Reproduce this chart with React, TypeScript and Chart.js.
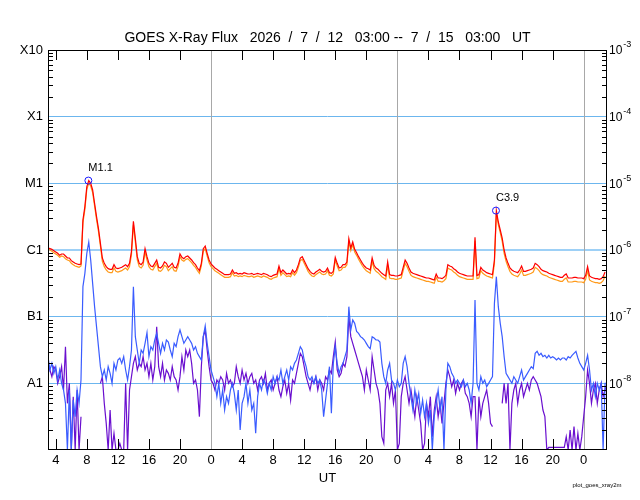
import { useEffect, useRef } from 'react';
import Chart from 'chart.js/auto';

// GOES X-ray flux, 15-minute samples from 2026-07-12 03:00 UT, stored as log10(W/m^2)
const SAMPLE_HOURS = 0.25;
const FONT = "'Liberation Sans', Arial, sans-serif";

// 1-8 A, primary (red)
const longPrimaryLog: (number | null)[] = [
  -5.97, -5.98, -5.99, -6.01, -6.03, -6.05, -6.08, -6.06, -6.06, -6.09, -6.12, -6.12, -6.16, -6.18, -6.2, -6.21, -6.22, -6.21, -5.55, -5.35, -5.05, -4.96, -5.0, -5.1,
  -5.3, -5.5, -5.68, -5.9, -6.12, -6.2, -6.25, -6.28, -6.29, -6.29, -6.22, -6.27, -6.28, -6.27, -6.26, -6.24, -6.22, -6.25, -6.2, -6.02, -5.57, -5.83, -6.1, -6.2,
  -6.22, -6.18, -5.98, -6.1, -6.2, -6.24, -6.25, -6.2, -6.15, -6.26, -6.27, -6.24, -6.18, -6.2, -6.26, -6.23, -6.2, -6.26, -6.27, -6.2, -6.06, -6.11, -6.13, -6.1,
  -6.09, -6.12, -6.15, -6.19, -6.22, -6.27, -6.31, -6.2, -5.98, -5.94, -6.05, -6.15, -6.21, -6.24, -6.27, -6.29, -6.31, -6.33, -6.35, -6.37, -6.37, -6.37, -6.36, -6.3,
  -6.35, -6.34, -6.36, -6.35, -6.36, -6.34, -6.35, -6.36, -6.36, -6.35, -6.37, -6.36, -6.35, -6.36, -6.37, -6.35, -6.36, -6.37, -6.39, -6.4, -6.38, -6.37, -6.36, -6.24,
  -6.34, -6.3, -6.33, -6.36, -6.35, -6.36, -6.3, -6.34, -6.3, -6.22, -6.12, -6.1, -6.16, -6.22, -6.28, -6.32, -6.35, -6.36, -6.33, -6.31, -6.29, -6.32, -6.33, -6.32,
  -6.27, -6.34, -6.35, -6.32, -6.11, -6.2, -6.27, -6.26, -6.22, -6.22, -6.18, -5.83, -5.97, -5.88, -5.99, -6.04, -6.1, -6.15, -6.2, -6.24, -6.27, -6.28, -6.3, -6.12,
  -6.23, -6.27, -6.29, -6.32, -6.35, -6.37, -6.39, -6.18, -6.37, -6.38, -6.38, -6.39, -6.39, -6.38, -6.37, -6.26, -6.15, -6.2, -6.27, -6.33, -6.35, -6.36, -6.37, -6.38,
  -6.39, -6.4, -6.41, -6.42, -6.42, -6.43, -6.44, -6.45, -6.36, -6.42, -6.42, -6.43, -6.41, -6.38, -6.22, -6.24, -6.25, -6.28, -6.3, -6.33, -6.35, -6.36, -6.37, -6.38,
  -6.39, -6.39, -6.39, -6.39, -5.81, -6.38, -6.37, -6.26, -6.3, -6.32, -6.34, -6.35, -6.36, -6.37, -6.15, -5.41, -5.58, -5.7, -5.82, -6.0, -6.12, -6.2, -6.27, -6.3,
  -6.32, -6.33, -6.34, -6.3, -6.24, -6.32, -6.32, -6.31, -6.3, -6.29, -6.27, -6.2, -6.22, -6.25, -6.29, -6.31, -6.32, -6.33, -6.35, -6.36, -6.37, -6.38, -6.39, -6.4,
  -6.41, -6.41, -6.38, -6.36, -6.42, -6.42, -6.42, -6.41, -6.41, -6.42, -6.42, -6.42, -6.43, -6.38, -6.25, -6.39, -6.41, -6.42, -6.43, -6.43, -6.44, -6.43, -6.4, -6.33,
  null,
];

// 1-8 A, secondary (orange)
const longSecondaryLog: (number | null)[] = [
  -5.99, -6.0, -6.02, -6.04, -6.06, -6.08, -6.11, -6.09, -6.1, -6.13, -6.15, -6.16, -6.2, -6.22, -6.24, -6.25, -6.26, -6.24, -5.59, -5.39, -5.09, -5.0, -5.04, -5.14,
  -5.34, -5.54, -5.72, -5.94, -6.17, -6.25, -6.3, -6.33, -6.34, -6.34, -6.27, -6.32, -6.33, -6.32, -6.31, -6.29, -6.27, -6.3, -6.25, -6.07, -5.62, -5.88, -6.15, -6.25,
  -6.27, -6.23, -6.03, -6.15, -6.25, -6.29, -6.3, -6.25, -6.2, -6.31, -6.32, -6.29, -6.23, -6.25, -6.31, -6.28, -6.25, -6.31, -6.32, -6.25, -6.1, -6.15, -6.17, -6.14,
  -6.13, -6.16, -6.19, -6.23, -6.26, -6.31, -6.35, -6.24, -6.02, -5.98, -6.09, -6.19, -6.25, -6.28, -6.31, -6.33, -6.35, -6.37, -6.39, -6.41, -6.41, -6.41, -6.4, -6.34,
  -6.39, -6.38, -6.4, -6.39, -6.4, -6.38, -6.39, -6.4, -6.4, -6.39, -6.41, -6.4, -6.39, -6.4, -6.41, -6.39, -6.4, -6.41, -6.43, -6.44, -6.42, -6.41, -6.4, -6.28,
  -6.38, -6.34, -6.37, -6.4, -6.39, -6.4, -6.34, -6.38, -6.34, -6.26, -6.16, -6.14, -6.2, -6.26, -6.32, -6.36, -6.39, -6.4, -6.37, -6.35, -6.33, -6.36, -6.37, -6.36,
  -6.31, -6.38, -6.39, -6.36, -6.15, -6.24, -6.31, -6.3, -6.26, -6.26, -6.22, -5.87, -6.01, -5.92, -6.03, -6.08, -6.14, -6.19, -6.24, -6.28, -6.31, -6.33, -6.35, -6.17,
  -6.28, -6.32, -6.34, -6.37, -6.4, -6.42, -6.44, -6.23, -6.42, -6.43, -6.43, -6.44, -6.44, -6.43, -6.42, -6.31, -6.2, -6.25, -6.32, -6.38, -6.4, -6.41, -6.42, -6.43,
  -6.44, -6.45, -6.46, -6.47, -6.47, -6.48, -6.49, -6.5, -6.41, -6.47, -6.47, -6.48, -6.46, -6.43, -6.27, -6.29, -6.3, -6.33, -6.35, -6.38, -6.4, -6.41, -6.42, -6.43,
  -6.44, -6.44, -6.44, -6.44, -5.86, -6.43, -6.42, -6.31, -6.35, -6.37, -6.39, -6.4, -6.41, -6.42, -6.2, -5.44, -5.62, -5.74, -5.87, -6.05, -6.17, -6.25, -6.32, -6.36,
  -6.38, -6.39, -6.4, -6.36, -6.3, -6.38, -6.38, -6.37, -6.36, -6.35, -6.33, -6.26, -6.28, -6.31, -6.35, -6.37, -6.38, -6.39, -6.41, -6.42, -6.43, -6.44, -6.45, -6.46,
  -6.47, -6.47, -6.44, -6.42, -6.48, -6.48, -6.48, -6.47, -6.47, -6.48, -6.48, -6.48, -6.49, -6.44, -6.31, -6.45, -6.47, -6.48, -6.49, -6.49, -6.5, -6.49, -6.46, -6.39,
  null,
];

// 0.5-4 A, primary (blue)
const shortPrimaryLog: (number | null)[] = [
  -7.6, -7.8, -7.7, -7.85, -7.75, -7.95, -7.8, -8.0, -8.1, -8.3, -9.0, -8.1, -9.0, -8.25, -8.5, -8.1, -8.3, -7.95, -6.55, -6.35, -6.05, -5.88, -6.15, -6.5,
  -6.85, -7.15, -7.45, -7.75, -7.9, -7.8, -7.95, -7.75, -7.85, -8.0, -7.7, -7.8, -7.65, -7.62, -7.7, -7.6, -7.8, -7.95, -7.75, -7.5, -6.55, -7.3, -7.5, -7.7,
  -7.5, -7.55, -7.4, -7.24, -7.6, -7.45, -7.5, -7.35, -7.25, -7.4, -7.55, -7.4, -7.5, -7.35, -7.38, -7.5, -7.6, -7.4, -7.45, -7.3, -7.2, -7.3, -7.4, -7.35,
  -7.3, -7.35, -7.4, -7.5, -7.45, -7.55, -7.6, -7.65, -7.3, -7.14, -7.4, -7.6, -7.8, -7.9, -8.0, -8.2, -8.0, -8.3, -8.1, -8.4, -8.2, -8.3, -8.1, -8.0,
  -8.15, -8.4, -8.1, -8.7, -8.3, -8.2, -8.0, -8.3, -8.1, -8.4, -8.3, -8.75, -8.2, -8.0, -8.1, -7.95, -8.0, -8.15, -8.0, -8.1, -7.9, -8.0, -7.9, -7.95,
  -7.8, -8.0, -7.9, -7.8, -7.95, -7.75, -7.8, -7.7, -7.65, -7.55, -7.45, -7.5, -7.65, -7.75, -7.9, -7.95, -7.9, -8.0, -7.9, -8.0, -7.95, -8.1, -8.5, -8.25,
  -8.0, -7.75, -8.45, -7.7, -7.45, -7.7, -7.85, -7.75, -7.7, -7.6, -7.5, -6.85, -7.2, -7.05, -7.1, -7.22, -7.25, -7.3, -7.32, -7.35, -7.4, -7.45, -7.48, -7.3,
  -7.32, -7.35, -7.35, -7.38, -7.7, -7.9, -8.0, -7.8, -7.7, -7.95, -8.0, -8.1, -7.95, -8.05, -8.0, -7.7, -7.6, -7.75, -8.0, -8.2, -8.4, -8.1, -8.3, -8.15,
  -8.45, -8.25, -8.5, -8.3, -8.6, -8.4, -9.0, -8.5, -8.3, -8.1, -8.4, -8.2, -9.0, -8.1, -7.7, -7.75, -7.85, -7.9, -8.0, -7.95, -8.0, -8.05, -7.95, -8.05,
  -8.0, -8.1, -8.3, -8.0, -6.75, -8.0, -8.1, -7.9, -8.0, -7.95, -8.05, -8.0, -7.95, -7.9, -6.8, -6.4, -6.85, -7.1, -7.3, -7.6, -7.85, -7.9, -7.95, -8.0,
  -7.9, -7.95, -8.0, -7.9, -7.8, -7.95, -7.9, -7.85, -7.8, -7.75, -7.78, -7.55, -7.52, -7.58, -7.55, -7.6, -7.58, -7.62, -7.58, -7.62, -7.6, -7.62, -7.65, -7.62,
  -7.65, -7.62, -7.62, -7.65, -7.6, -7.62, -7.58, -7.55, -7.52, -7.62, -7.7, -7.75, -7.8, -7.7, -7.58, -7.8, -8.1, -8.0, -8.2, -8.0, -8.1, -8.0, -9.0, -8.0,
  -8.0,
];

// 0.5-4 A, secondary (purple)
const shortSecondaryLog: (number | null)[] = [
  -7.7, -7.8, -7.9, -7.75, -7.8, -8.0, -7.9, -7.75, -8.1, -7.45, -8.3, -8.0, -9.0, -8.2, -9.0, -8.1, -9.0, -8.5, null, null, null, null, null, null,
  null, null, null, -8.0, -7.9, -8.3, -8.6, -9.0, -8.4, -9.0, -8.75, -9.0, -9.0, -8.9, -9.0, -9.0, -8.0, -9.0, -8.1, -7.9, -7.7, -7.6, -7.8, -7.7,
  -7.75, -7.6, -7.8, -7.7, -7.9, -7.7, -7.95, -7.75, -7.15, -7.75, -7.9, -7.7, -7.95, -7.8, -7.85, -7.95, -7.75, -7.9, -7.95, -8.1, -7.9, -7.6, -7.8, -7.5,
  -7.6, -7.5, -7.7, -8.0, -7.95, -8.1, -8.5, -7.75, -7.3, -7.2, -7.5, -7.75, -7.95, -8.0, -8.1, -7.95, -8.0, -7.9, -7.95, -8.1, -7.85, -8.0, -7.95, -8.05,
  -8.0, -7.75, -7.9, -8.0, -7.8, -7.95, -7.85, -8.0, -7.9, -7.85, -8.0, -7.95, -8.1, -7.95, -7.9, -8.0, -7.85, -8.1, -8.0, -7.95, -8.1, -8.0, -7.9, -8.1,
  -8.2, -8.05, -7.95, -8.15, -8.0, -8.25, -7.95, -8.0, -7.85, -7.7, -7.55, -7.6, -7.75, -7.9, -8.0, -8.1, -7.95, -8.0, -7.9, -8.1, -7.95, -8.0, -8.1, -7.9,
  -7.95, -7.8, -7.85, -7.6, -7.38, -7.8, -7.9, -7.85, -7.7, -7.75, -7.6, -7.0, -7.3, -7.4, -7.5, -7.6, -7.7, -7.8, -7.9, -8.1, -7.8, -7.95, -8.1, -7.6,
  -7.8, -8.0, -8.1, -8.3, -8.8, -8.9, -8.1, -8.0, -8.2, -8.0, -8.3, -8.1, -9.0, -8.9, -8.2, -8.0, -7.9, -8.1, -8.3, -8.1, -8.3, -8.5, -8.2, -8.4,
  -8.6, -9.0, -8.9, -8.3, -8.5, -8.2, -8.8, -8.4, -8.2, -8.5, -8.3, -8.6, -8.3, -8.0, -7.8, -7.9, -8.05, -7.95, -8.15, -8.0, -8.1, -8.0, -7.95, -8.15,
  -8.2, -8.3, -8.5, -8.2, -8.2, -9.0, -8.2, -8.5, -8.3, -8.2, -8.1, -8.3, -8.6, -8.65, null, null, null, null, -8.3, -8.0, -8.3, -8.0, -9.0, -8.3,
  -8.1, -8.0, -8.3, -8.1, -8.0, -8.2, -8.1, -8.0, -8.1, -7.95, -7.9, -7.95, -8.0, -8.1, -8.2, -8.4, -8.5, -9.0, -8.96, -8.96, -8.96, -8.96, -8.96, -8.96,
  -8.96, -8.96, -8.96, -8.8, -9.0, -8.7, -9.0, -8.65, -9.0, -8.75, -9.0, -8.8, -8.5, -8.2, -7.8, -8.0, -8.3, -8.1, -8.0, -8.3, -8.1, -8.0, -8.2, -8.1,
  -8.0,
];

const flareHours = [5.2, 57.7];
const flareFlux = [1.1e-5, 3.9e-6];
const flareClasses = ['M1.1', 'C3.9'];

const tickHours = [1, 5, 9, 13, 17, 21, 25, 29, 33, 37, 41, 45, 49, 53, 57, 61, 65, 69];
const tickLabels = ['4', '8', '12', '16', '20', '0', '4', '8', '12', '16', '20', '0', '4', '8', '12', '16', '20', '0'];
const dayBoundaryHours = [21, 45, 69];

const decadeExponents = [-9, -8, -7, -6, -5, -4, -3];
const classLabels = ['', 'A1', 'B1', 'C1', 'M1', 'X1', 'X10'];
const powerLabels = ['', '-8', '-7', '-6', '-5', '-4', '-3'];

const TITLE = 'GOES X-Ray Flux   2026  /  7  /  12   03:00 --  7  /  15   03:00   UT';

const toPoints = (logs: (number | null)[]) =>
  logs.map((v, i) => ({ x: i * SAMPLE_HOURS, y: v === null ? null : 10 ** v }));

const decadeIndex = (value: number) => decadeExponents.indexOf(Math.round(Math.log10(value)));

// axis frame, inward ticks, day separators, right-hand powers, flare labels
const goesFrame = {
  id: 'goesFrame',
  beforeDatasetsDraw(chart: any) {
    const { ctx, chartArea: a, scales } = chart;
    ctx.save();
    ctx.strokeStyle = '#a8a8a8';
    ctx.lineWidth = 1;
    ctx.beginPath();
    for (const h of dayBoundaryHours) {
      const px = Math.round(scales.x.getPixelForValue(h)) + 0.5;
      ctx.moveTo(px, a.top);
      ctx.lineTo(px, a.bottom);
    }
    ctx.stroke();
    ctx.restore();
  },
  afterDatasetsDraw(chart: any) {
    const { ctx, chartArea: a, scales } = chart;
    const x = scales.x;
    const y = scales.y;
    ctx.save();
    ctx.strokeStyle = '#000';
    ctx.lineWidth = 1;
    ctx.strokeRect(a.left + 0.5, a.top + 0.5, a.right - a.left - 1, a.bottom - a.top - 1);

    ctx.beginPath();
    for (const h of tickHours) {
      if (dayBoundaryHours.includes(h)) continue;
      const px = Math.round(x.getPixelForValue(h)) + 0.5;
      ctx.moveTo(px, a.bottom);
      ctx.lineTo(px, a.bottom - 11);
      ctx.moveTo(px, a.top);
      ctx.lineTo(px, a.top + 10);
    }
    for (const e of decadeExponents.slice(0, -1)) {
      for (let m = 2; m <= 9; m++) {
        const py = Math.round(y.getPixelForValue(m * 10 ** e)) + 0.5;
        ctx.moveTo(a.left, py);
        ctx.lineTo(a.left + 5, py);
        ctx.moveTo(a.right, py);
        ctx.lineTo(a.right - 5, py);
      }
    }
    ctx.stroke();

    ctx.fillStyle = '#000';
    ctx.textBaseline = 'middle';
    ctx.textAlign = 'left';
    decadeExponents.forEach((e, i) => {
      if (!powerLabels[i]) return;
      const py = y.getPixelForValue(10 ** e);
      ctx.font = `12px ${FONT}`;
      ctx.fillText('10', a.right + 2, py + 1);
      const w = ctx.measureText('10').width;
      ctx.font = `9px ${FONT}`;
      ctx.fillText(powerLabels[i], a.right + 3 + w, py - 5);
    });

    ctx.font = `11px ${FONT}`;
    flareHours.forEach((h, i) => {
      const px = x.getPixelForValue(h);
      const py = y.getPixelForValue(flareFlux[i]);
      ctx.fillText(flareClasses[i], px, py - 13);
    });

    ctx.font = `6px ${FONT}`;
    ctx.textAlign = 'center';
    ctx.fillText('plot_goes_xray2m', a.right - 10, a.bottom + 35);
    ctx.restore();
  },
};

export default function App() {
  const canvasRef = useRef<HTMLCanvasElement | null>(null);

  useEffect(() => {
    if (!canvasRef.current) return;

    const line = (label: string, logs: (number | null)[], color: string) => ({
      label,
      data: toPoints(logs),
      borderColor: color,
      backgroundColor: color,
      borderWidth: 1.2,
      pointRadius: 0,
      tension: 0,
      spanGaps: false,
    });

    const chart = new Chart(canvasRef.current, {
      type: 'line',
      data: {
        datasets: [
          {
            label: 'Flare peaks',
            data: flareHours.map((h, i) => ({ x: h, y: flareFlux[i] })),
            showLine: false,
            pointStyle: 'circle',
            pointRadius: 3.5,
            pointBorderWidth: 1,
            pointBorderColor: '#1a1aff',
            pointBackgroundColor: 'rgba(0,0,0,0)',
          },
          line('1.0-8.0 A primary', longPrimaryLog, '#ff0000'),
          line('0.5-4.0 A primary', shortPrimaryLog, '#3a5cff'),
          line('1.0-8.0 A secondary', longSecondaryLog, '#ff9a1a'),
          line('0.5-4.0 A secondary', shortSecondaryLog, '#6a0fcf'),
        ],
      },
      options: {
        animation: false,
        responsive: false,
        events: [],
        layout: { padding: { left: 0, right: 33, top: 0, bottom: 0 } },
        plugins: {
          legend: { display: false },
          tooltip: { enabled: false },
          title: {
            display: true,
            fullSize: false,
            text: TITLE,
            color: '#000',
            font: { family: FONT, size: 14, weight: 'normal', lineHeight: 1.2 },
            padding: { top: 30, bottom: 3.2 },
          },
        },
        scales: {
          x: {
            type: 'linear',
            min: 0,
            max: 72,
            afterBuildTicks: (scale: any) => {
              scale.ticks = tickHours.map((value) => ({ value }));
            },
            afterFit: (scale: any) => {
              scale.height = 50;
            },
            grid: { display: false, drawTicks: false },
            border: { display: false },
            ticks: {
              autoSkip: false,
              maxRotation: 0,
              padding: 3,
              color: '#000',
              font: { family: FONT, size: 13 },
              callback: (_v: any, i: number) => tickLabels[i],
            },
            title: {
              display: true,
              text: 'UT',
              color: '#000',
              font: { family: FONT, size: 13 },
              padding: { top: 0, bottom: 14 },
            },
          },
          y: {
            type: 'logarithmic',
            min: 1e-9,
            max: 1e-3,
            afterBuildTicks: (scale: any) => {
              scale.ticks = decadeExponents.map((e) => ({ value: 10 ** e }));
            },
            afterFit: (scale: any) => {
              scale.width = 48;
            },
            border: { display: false },
            grid: {
              drawTicks: false,
              color: (c: any) => {
                const i = decadeIndex(c.tick.value);
                if (i <= 0 || i >= decadeExponents.length - 1) return 'rgba(0,0,0,0)';
                return decadeExponents[i] === -6 ? '#9dd0f6' : '#6cb6ee';
              },
              lineWidth: (c: any) => (decadeExponents[decadeIndex(c.tick.value)] === -6 ? 2 : 1),
            },
            ticks: {
              padding: 5,
              color: '#000',
              font: { family: FONT, size: 13 },
              callback: (v: any) => classLabels[decadeIndex(Number(v))],
            },
          },
        },
      },
      plugins: [goesFrame],
    } as any);

    return () => chart.destroy();
  }, []);

  return (
    <div style={{ position: 'absolute', left: 0, top: 0, width: 640, height: 500, background: '#fff' }}>
      <canvas ref={canvasRef} width={640} height={500} aria-label="GOES X-Ray Flux" />
    </div>
  );
}
